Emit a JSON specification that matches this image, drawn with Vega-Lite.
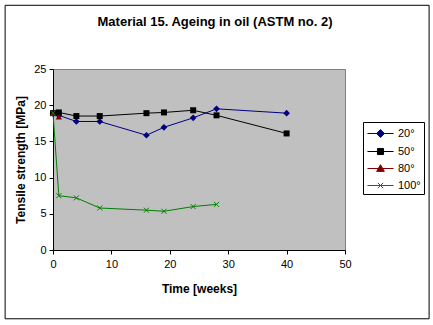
{
  "$schema": "https://vega.github.io/schema/vega-lite/v6.json",
  "width": 292,
  "height": 181,
  "autosize": {"type": "none"},
  "padding": {"left": 53, "top": 69, "right": 88, "bottom": 75},
  "background": "white",
  "title": {
    "text": "Material 15. Ageing in oil (ASTM no. 2)",
    "font": "Liberation Sans",
    "fontSize": 13,
    "fontWeight": "bold",
    "color": "black",
    "anchor": "middle",
    "dx": 16,
    "offset": -24
  },
  "config": {
    "view": {"fill": "#C0C0C0", "stroke": "#808080", "strokeWidth": 1},
    "axis": {
      "grid": false,
      "domainColor": "black",
      "tickColor": "black",
      "tickSize": 4,
      "labelOverlap": false,
      "labelFlush": false,
      "labelFont": "Liberation Sans",
      "labelFontSize": 11,
      "labelColor": "black",
      "titleFont": "Liberation Sans",
      "titleFontSize": 12,
      "titleFontWeight": "bold",
      "titleColor": "black"
    }
  },
  "datasets": {
    "series": [
      {"series": "20°", "week": 0, "strength": 18.9},
      {"series": "20°", "week": 1, "strength": 18.6},
      {"series": "20°", "week": 4, "strength": 17.75},
      {"series": "20°", "week": 8, "strength": 17.75},
      {"series": "20°", "week": 16, "strength": 15.85},
      {"series": "20°", "week": 19, "strength": 16.95},
      {"series": "20°", "week": 24, "strength": 18.25},
      {"series": "20°", "week": 28, "strength": 19.5},
      {"series": "20°", "week": 40, "strength": 18.9},
      {"series": "50°", "week": 0, "strength": 18.9},
      {"series": "50°", "week": 1, "strength": 19.0},
      {"series": "50°", "week": 4, "strength": 18.5},
      {"series": "50°", "week": 8, "strength": 18.5},
      {"series": "50°", "week": 16, "strength": 18.9},
      {"series": "50°", "week": 19, "strength": 19.0},
      {"series": "50°", "week": 24, "strength": 19.3},
      {"series": "50°", "week": 28, "strength": 18.6},
      {"series": "50°", "week": 40, "strength": 16.1},
      {"series": "80°", "week": 0, "strength": 18.9},
      {"series": "80°", "week": 1, "strength": 18.4},
      {"series": "100°", "week": 0, "strength": 18.9},
      {"series": "100°", "week": 1, "strength": 7.5},
      {"series": "100°", "week": 4, "strength": 7.2},
      {"series": "100°", "week": 8, "strength": 5.8},
      {"series": "100°", "week": 16, "strength": 5.5},
      {"series": "100°", "week": 19, "strength": 5.35},
      {"series": "100°", "week": 24, "strength": 6.0},
      {"series": "100°", "week": 28, "strength": 6.3}
    ],
    "frame": [{"x0": -8.2, "x1": 64.4, "y0": -9.5, "y1": 33.8}]
  },
  "layer": [
    {
      "data": {"name": "series"},
      "mark": {"type": "line", "strokeWidth": 1},
      "encoding": {
        "x": {
          "field": "week", "type": "quantitative",
          "scale": {"domain": [0, 50], "nice": false, "zero": false},
          "axis": {"values": [0, 10, 20, 30, 40, 50], "tickCount": 20, "labelOverlap": false, "title": "Time [weeks]", "labelPadding": 4, "titlePadding": 14}
        },
        "y": {
          "field": "strength", "type": "quantitative",
          "scale": {"domain": [0, 25], "nice": false, "zero": false},
          "axis": {"values": [0, 5, 10, 15, 20, 25], "tickCount": 20, "labelOverlap": false, "title": "Tensile strength [MPa]", "labelPadding": 3, "titlePadding": 6}
        },
        "color": {
          "field": "series", "type": "nominal",
          "scale": {"domain": ["20°", "50°", "80°", "100°"], "range": ["#000080", "#000000", "#800000", "#008000"]},
          "legend": {
            "title": null,
            "orient": "none",
            "legendX": 310,
            "legendY": 53,
            "strokeColor": "black",
            "fillColor": "white",
            "padding": 3,
            "symbolSize": 256,
            "symbolOffset": 6,
            "symbolStrokeWidth": 1,
            "labelFont": "Liberation Sans",
            "labelFontSize": 11,
            "labelColor": "black",
            "labelOffset": 9,
            "rowPadding": 3,
            "encode": {
              "symbols": {
                "update": {
                  "shape": {"signal": "datum.value === '20°' ? 'M-1.63,0H1.63M-0.49,0L0,-0.49L0.49,0L0,0.49Z' : datum.value === '50°' ? 'M-1.63,0H1.63M-0.38,-0.38H0.38V0.38H-0.38Z' : datum.value === '80°' ? 'M-1.63,0H1.63M0,-0.48L0.48,0.36H-0.48Z' : 'M-1.63,0H1.63M-0.33,-0.33L0.33,0.33M-0.33,0.33L0.33,-0.33'"},
                  "fill": {"scale": "color", "field": "value"},
                  "stroke": {"scale": "color", "field": "value"},
                  "strokeWidth": {"value": 1}
                }
              }
            }
          }
        },
        "detail": {"field": "series"}
      }
    },
    {
      "data": {"name": "frame"},
      "mark": {"type": "rect", "fill": "transparent", "stroke": "black", "strokeWidth": 1, "clip": false},
      "encoding": {
        "x": {"field": "x0", "type": "quantitative"},
        "x2": {"field": "x1"},
        "y": {"field": "y0", "type": "quantitative"},
        "y2": {"field": "y1"}
      }
    },
    {
      "data": {"name": "series"},
      "transform": [{"filter": "datum.series === '20°'"}],
      "mark": {"type": "point", "shape": "diamond", "filled": true, "size": 45, "color": "#000080", "opacity": 1},
      "encoding": {
        "x": {"field": "week", "type": "quantitative"},
        "y": {"field": "strength", "type": "quantitative"}
      }
    },
    {
      "data": {"name": "series"},
      "transform": [{"filter": "datum.series === '50°'"}],
      "mark": {"type": "point", "shape": "square", "filled": true, "size": 36, "color": "#000000", "opacity": 1},
      "encoding": {
        "x": {"field": "week", "type": "quantitative"},
        "y": {"field": "strength", "type": "quantitative"}
      }
    },
    {
      "data": {"name": "series"},
      "transform": [{"filter": "datum.series === '80°'"}],
      "mark": {"type": "point", "shape": "triangle-up", "filled": true, "size": 40, "color": "#800000", "opacity": 1},
      "encoding": {
        "x": {"field": "week", "type": "quantitative"},
        "y": {"field": "strength", "type": "quantitative"}
      }
    },
    {
      "data": {"name": "series"},
      "transform": [{"filter": "datum.series === '100°'"}],
      "mark": {"type": "point", "shape": "M-1,-1L1,1M-1,1L1,-1", "filled": false, "size": 25, "strokeWidth": 1, "color": "#008000", "opacity": 1},
      "encoding": {
        "x": {"field": "week", "type": "quantitative"},
        "y": {"field": "strength", "type": "quantitative"}
      }
    }
  ]
}
